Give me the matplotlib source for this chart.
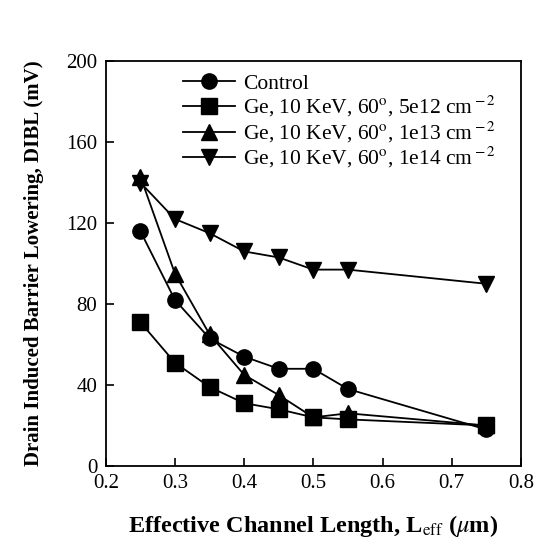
import matplotlib
matplotlib.use("Agg")
import matplotlib.pyplot as plt

plt.rcParams["font.family"] = ["Liberation Serif", "DejaVu Serif"]
plt.rcParams["mathtext.fontset"] = "stix"

leff = [0.25, 0.30, 0.35, 0.40, 0.45, 0.50, 0.55, 0.75]
control = [116, 82, 63, 54, 48, 48, 38, 18]
ge_5e12 = [71, 51, 39, 31, 28, 24, 23, 20]
ge_1e13 = [143, 95, 65, 45, 35, 24, 26, 20]
ge_1e14 = [140, 122, 115, 106, 103, 97, 97, 90]

labels = [
    "Control",
    "Ge, 10 KeV, 60$^{\\rm o}$, 5e12 cm$^{\\rm -2}$",
    "Ge, 10 KeV, 60$^{\\rm o}$, 1e13 cm$^{\\rm -2}$",
    "Ge, 10 KeV, 60$^{\\rm o}$, 1e14 cm$^{\\rm -2}$",
]
series = [control, ge_5e12, ge_1e13, ge_1e14]
markers = ["o", "s", "^", "v"]

fig = plt.figure(figsize=(5.37, 5.56), dpi=100)
ax = fig.add_axes([0.197, 0.162, 0.773, 0.728])

for y, m, lab in zip(series, markers, labels):
    ax.plot(leff, y, color="black", lw=1.3, marker=m, markersize=11, label=lab)

ax.set_xlim(0.2, 0.8)
ax.set_ylim(0, 200)
ax.set_xticks([0.2, 0.3, 0.4, 0.5, 0.6, 0.7, 0.8])
ax.set_yticks([0, 40, 80, 120, 160, 200])
ax.tick_params(direction="in", labelsize=15, length=6, width=1.2, pad=6)
for s in ax.spines.values():
    s.set_linewidth(1.3)

ax.set_xlabel("Effective Channel Length, L$_{\\rm eff}$ ($\\mu$m)",
              fontsize=17.5, fontweight="bold", labelpad=14)
ax.set_ylabel("Drain Induced Barrier Lowering, DIBL (mV)",
              fontsize=15, fontweight="bold", labelpad=16)

ax.legend(loc="upper left", bbox_to_anchor=(0.165, 0.99), frameon=False,
          fontsize=15.5, handlelength=2.4, handletextpad=0.4, labelspacing=0.02,
          borderaxespad=0)

fig.savefig("out.png", dpi=100)
